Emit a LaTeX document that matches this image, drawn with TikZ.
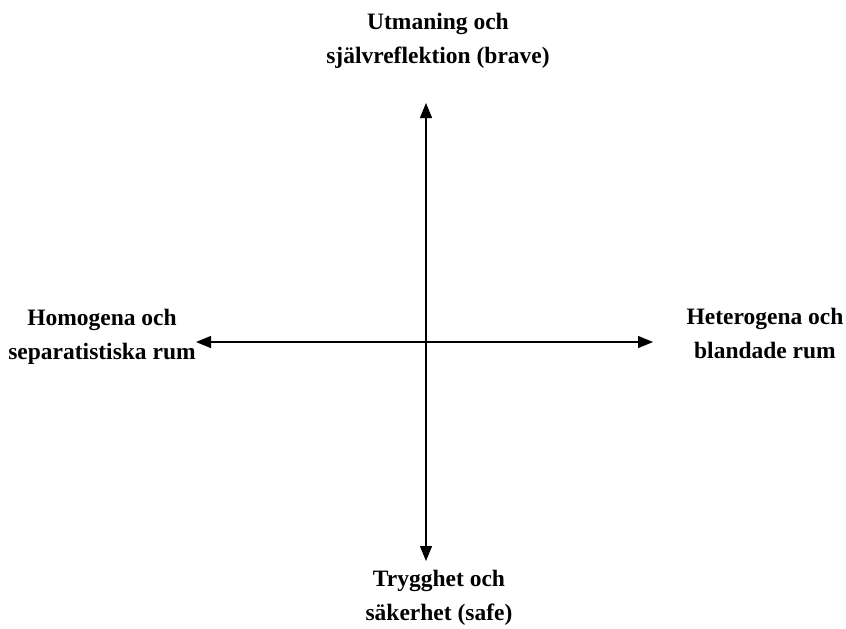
\documentclass[tikz,border=0pt]{standalone}
\usepackage{fontspec}
\setmainfont{Liberation Serif}
\usetikzlibrary{arrows.meta}
\begin{document}
\begin{tikzpicture}[x=1pt,y=-1pt,
  lbl/.style={font=\bfseries\fontsize{23.5}{34}\selectfont, align=center, inner sep=0pt},
  axis/.style={line width=1.3pt, {Triangle[length=15pt,width=12pt]}-{Triangle[length=15pt,width=12pt]}}]
\useasboundingbox (0,0) rectangle (846,629);
\coordinate (top) at (426,103);
\coordinate (bot) at (426,561);
\coordinate (lft) at (196,342);
\coordinate (rgt) at (653,342);
\draw[axis] (bot) -- (top);
\draw[axis] (lft) -- (rgt);
\node[lbl] (tl) at (438,41) {Utmaning och\\självreflektion (brave)};
\node[lbl] (bl) at (439,598) {Trygghet och\\säkerhet (safe)};
\node[lbl] (ll) at (102,337) {Homogena och\\separatistiska rum};
\node[lbl] (rl) at (765,333) {Heterogena och\\blandade rum};
\end{tikzpicture}
\end{document}
